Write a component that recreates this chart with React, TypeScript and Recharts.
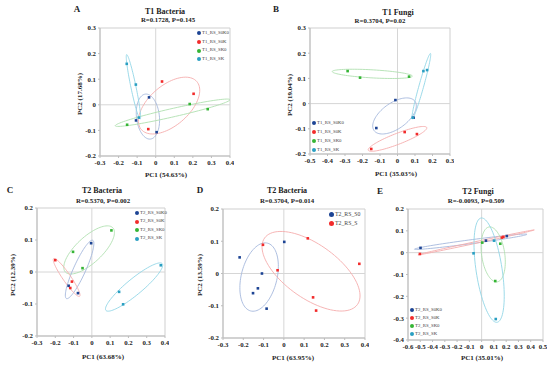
import { ReferenceArea, ReferenceLine, Scatter, ScatterChart, XAxis, YAxis } from "recharts";

const FONT = '"Liberation Serif", "Times New Roman", serif';

const COLORS = { s0k0: "#1d4494", s0k: "#f22b2b", sk0: "#35b535", sk: "#2a9fc2" };
const RING = { s0k0: "#a5b8dc", s0k: "#f5adad", sk0: "#b0e0b0", sk: "#92d6e6" };

// panel A — T1 bacteria
const aS0K0 = [{ x: -0.036, y: 0.029 }, { x: -0.106, y: -0.061 }, { x: 0.005, y: -0.107 }];
const aS0K = [{ x: 0.034, y: 0.091 }, { x: 0.204, y: 0.043 }, { x: -0.04, y: -0.095 }];
const aSK0 = [{ x: -0.154, y: -0.078 }, { x: 0.183, y: 0.003 }, { x: 0.28, y: -0.017 }];
const aSK = [{ x: -0.156, y: 0.16 }, { x: -0.107, y: 0.079 }, { x: -0.091, y: -0.05 }];
// ellipse: centre, vector to tip, conjugate vector
const aRings = [
  { k: "s0k0", c: [-0.042, -0.046], u: [-0.01, 0.088], v: [0.062, 0] },
  { k: "s0k", c: [0.072, -0.003], u: [0.149, 0.094], v: [0.071, -0.059] },
  { k: "sk0", c: [0.091, -0.031], u: [0.309, 0.051], v: [0.005, -0.016] },
  { k: "sk", c: [-0.12, 0.07], u: [-0.036, 0.126], v: [0.014, 0] },
];

// panel B — T1 fungi
const bS0K0 = [{ x: -0.012, y: 0.014 }, { x: -0.121, y: -0.097 }, { x: 0.092, y: -0.056 }];
const bS0K = [{ x: -0.15, y: -0.18 }, { x: 0.041, y: -0.113 }, { x: 0.111, y: -0.121 }];
const bSK0 = [{ x: -0.285, y: 0.129 }, { x: -0.214, y: 0.103 }, { x: 0.066, y: 0.107 }];
const bSK = [{ x: 0.148, y: 0.129 }, { x: 0.169, y: 0.133 }, { x: 0.087, y: -0.056 }];
const bRings = [
  { k: "sk0", c: [-0.144, 0.118], u: [0.229, -0.009], v: [0, 0.016] },
  { k: "sk", c: [0.136, 0.069], u: [0.052, 0.13], v: [0.014, 0] },
  { k: "s0k0", c: [-0.017, -0.049], u: [0.117, 0.058], v: [0.043, -0.042] },
  { k: "s0k", c: [0, -0.14], u: [0.167, 0.045], v: [0.012, -0.02] },
];

// panel C — T2 bacteria
const cS0K0 = [{ x: -0.004, y: 0.09 }, { x: -0.127, y: -0.043 }, { x: -0.076, y: -0.066 }];
const cS0K = [{ x: -0.2, y: 0.037 }, { x: -0.109, y: -0.03 }, { x: -0.118, y: -0.05 }];
const cSK0 = [{ x: -0.103, y: 0.063 }, { x: -0.051, y: 0.012 }, { x: 0.107, y: 0.13 }];
const cSK = [{ x: 0.149, y: -0.062 }, { x: 0.171, y: -0.101 }, { x: 0.377, y: 0.021 }];
const cRings = [
  { k: "sk0", c: [-0.015, 0.069], u: [0.13, 0.069], v: [0.048, -0.03] },
  { k: "s0k0", c: [-0.067, 0.008], u: [0.072, 0.091], v: [0.03, -0.008] },
  { k: "s0k", c: [-0.138, -0.017], u: [-0.071, 0.059], v: [0.018, 0.007] },
  { k: "sk", c: [0.231, -0.047], u: [0.154, 0.073], v: [0.028, -0.019] },
];

// panel D — T2 bacteria, S0 vs S
const dS0 = [
  { x: -0.218, y: 0.05 }, { x: -0.108, y: 0 }, { x: -0.128, y: -0.046 },
  { x: -0.152, y: -0.061 }, { x: -0.085, y: -0.109 }, { x: 0.002, y: 0.098 },
];
const dS = [
  { x: -0.103, y: 0.089 }, { x: -0.031, y: 0.01 }, { x: 0.118, y: 0.109 },
  { x: 0.372, y: 0.03 }, { x: 0.144, y: -0.074 }, { x: 0.159, y: -0.115 },
];
const dRings = [
  { k: "s0k0", c: [-0.122, -0.011], u: [0.03, 0.106], v: [0.09, 0] },
  { k: "s0k", c: [0.134, 0.007], u: [0.229, -0.103], v: [0.077, 0.068] },
];

// panel E — T2 fungi
const eS0K0 = [{ x: -0.498, y: 0.022 }, { x: 0.035, y: 0.055 }, { x: 0.205, y: 0.076 }];
const eS0K = [{ x: -0.503, y: -0.006 }, { x: 0.165, y: 0.069 }, { x: 0.177, y: 0.072 }];
const eSK0 = [{ x: 0.005, y: 0.046 }, { x: 0.152, y: 0.041 }, { x: 0.111, y: -0.13 }];
const eSK = [{ x: -0.066, y: -0.003 }, { x: 0.101, y: 0.055 }, { x: 0.115, y: -0.304 }];
const eRings = [
  { k: "s0k0", c: [-0.089, 0.05], u: [0.458, 0.034], v: [0, 0.009] },
  { k: "s0k", c: [-0.045, 0.047], u: [0.474, 0.057], v: [0, 0.004] },
  { k: "sk0", c: [0.094, -0.008], u: [-0.027, 0.126], v: [0.095, 0] },
  { k: "sk", c: [0.061, -0.08], u: [-0.061, 0.239], v: [0.107, 0] },
];

const ticksA = [-0.3, -0.2, -0.1, 0, 0.1, 0.2, 0.3, 0.4];
const ticksB = [-0.5, -0.4, -0.3, -0.2, -0.1, 0, 0.1, 0.2, 0.3];
const ticksE = [-0.6, -0.5, -0.4, -0.3, -0.2, -0.1, 0, 0.1, 0.2, 0.3, 0.4, 0.5];
const yTicks53 = [-0.2, -0.1, 0, 0.1, 0.2, 0.3];
const yTicks22 = [-0.2, -0.1, 0, 0.1, 0.2];
const yTicksE = [-0.4, -0.3, -0.2, -0.1, 0, 0.1, 0.2];

function ringPoints(r: any) {
  const pts = [];
  for (let i = 0; i <= 90; i++) {
    const t = (i / 90) * Math.PI * 2;
    pts.push({
      x: r.c[0] + r.u[0] * Math.cos(t) + r.v[0] * Math.sin(t),
      y: r.c[1] + r.u[1] * Math.cos(t) + r.v[1] * Math.sin(t),
    });
  }
  return pts;
}

const dot = (color: string) => (p: any) => (
  <rect x={p.cx - 1.3} y={p.cy - 1.3} width={2.6} height={2.6} fill={color} />
);

const tickStyle = { fontFamily: FONT, fontSize: 6.8, fontWeight: 700, fill: "#222" };

function Panel({ box, xDomain, yDomain, xTicks, yTicks, groups, rings }: any) {
  const [left, top, w, h] = box;
  return (
    <div style={{ position: "absolute", left: left - 30, top: top - 4 }}>
      <ScatterChart width={w + 34} height={h + 20} margin={{ top: 4, right: 4, bottom: 0, left: 0 }}>
        <XAxis
          type="number" dataKey="x" domain={xDomain} ticks={xTicks} interval={0} allowDataOverflow
          height={16} tick={tickStyle} tickSize={2} tickMargin={2} stroke="#bdbdbd"
        />
        <YAxis
          type="number" dataKey="y" domain={yDomain} ticks={yTicks} interval={0} allowDataOverflow
          width={30} tick={tickStyle} tickSize={2} tickMargin={2} stroke="#bdbdbd"
        />
        <ReferenceArea x1={xDomain[0]} x2={xDomain[1]} y1={yDomain[0]} y2={yDomain[1]} fill="none" stroke="#cfcfcf" />
        <ReferenceLine x={0} stroke="#d6d6d6" />
        <ReferenceLine y={0} stroke="#d6d6d6" />
        {rings.map((r: any, i: number) => {
          const col = RING[r.k as keyof typeof RING];
          return (
            <Scatter
              key={"r" + i} data={ringPoints(r)} fill={col} stroke={col}
              line={{ stroke: col, strokeWidth: 0.9 }}
              shape={() => <g />} isAnimationActive={false}
            />
          );
        })}
        {groups.map((g: any) => (
          <Scatter key={g.name} data={g.data} shape={dot(g.color)} isAnimationActive={false} />
        ))}
      </ScatterChart>
    </div>
  );
}

function Legend({ x, y, items, step, size }: any) {
  return (
    <div style={{ position: "absolute", left: x, top: y }}>
      {items.map((g: any, i: number) => (
        <div key={g.name} style={{ position: "absolute", top: i * step, left: 0, display: "flex", alignItems: "center", whiteSpace: "nowrap" }}>
          <span style={{ width: size, height: size, borderRadius: "50%", background: g.color, display: "inline-block", marginRight: 1 }} />
          <span style={{ fontSize: size + 0.8, color: "#444", lineHeight: 1 }}>{g.name}</span>
        </div>
      ))}
    </div>
  );
}

const txt = (s: string, x: number, y: number, size: number, bold = true, rotate = false) => (
  <div
    style={{
      position: "absolute", left: x, top: y, fontSize: size, fontWeight: bold ? 700 : 400,
      whiteSpace: "nowrap", lineHeight: 1, transform: `translate(-50%, -50%)${rotate ? " rotate(-90deg)" : ""}`,
    }}
  >
    {s}
  </div>
);

const groups4 = (p: string, a: any[], b: any[], c: any[], d: any[]) => [
  { name: `${p}_RS_S0K0`, color: COLORS.s0k0, data: a },
  { name: `${p}_RS_S0K`, color: COLORS.s0k, data: b },
  { name: `${p}_RS_SK0`, color: COLORS.sk0, data: c },
  { name: `${p}_RS_SK`, color: COLORS.sk, data: d },
];

export default function App() {
  const gA = groups4("T1", aS0K0, aS0K, aSK0, aSK);
  const gB = groups4("T1", bS0K0, bS0K, bSK0, bSK);
  const gC = groups4("T2", cS0K0, cS0K, cSK0, cSK);
  const gD = [
    { name: "T2_RS_S0", color: COLORS.s0k0, data: dS0 },
    { name: "T2_RS_S", color: COLORS.s0k, data: dS },
  ];
  const gE = groups4("T2", eS0K0, eS0K, eSK0, eSK);
  return (
    <div style={{ position: "absolute", left: 0, top: 0, width: 550, height: 367, background: "#fff", fontFamily: FONT, color: "#222", overflow: "hidden" }}>
      <Panel box={[100, 28, 130, 128]} xDomain={[-0.3, 0.4]} yDomain={[-0.2, 0.3]} xTicks={ticksA} yTicks={yTicks53} groups={gA} rings={aRings} />
      <Panel box={[310, 28, 140, 126]} xDomain={[-0.5, 0.3]} yDomain={[-0.2, 0.3]} xTicks={ticksB} yTicks={yTicks53} groups={gB} rings={bRings} />
      <Panel box={[37, 208, 128, 128]} xDomain={[-0.3, 0.4]} yDomain={[-0.2, 0.2]} xTicks={ticksA} yTicks={yTicks22} groups={gC} rings={cRings} />
      <Panel box={[223, 209, 142, 129]} xDomain={[-0.3, 0.4]} yDomain={[-0.2, 0.2]} xTicks={ticksA} yTicks={yTicks22} groups={gD} rings={dRings} />
      <Panel box={[408, 209, 135, 131]} xDomain={[-0.6, 0.5]} yDomain={[-0.4, 0.2]} xTicks={ticksE} yTicks={yTicksE} groups={gE} rings={eRings} />

      <Legend x={197} y={31} items={gA} step={8.7} size={4} />
      <Legend x={312} y={121} items={gB} step={8.9} size={4} />
      <Legend x={135} y={211} items={gC} step={8.4} size={4} />
      <Legend x={329} y={211.5} items={gD} step={9.3} size={5} />
      <Legend x={410} y={308} items={gE} step={8} size={4} />

      {txt("A", 77, 9, 9)}
      {txt("B", 276, 9, 9)}
      {txt("C", 10, 190, 9)}
      {txt("D", 200, 190, 9)}
      {txt("E", 380, 191, 9)}

      {txt("T1 Bacteria", 165, 12, 8)}
      {txt("R=0.1728, P=0.145", 168, 19.5, 6.8)}
      {txt("T1 Fungi", 398, 13, 8)}
      {txt("R=0.3704, P=0.02", 380, 20.5, 6.8)}
      {txt("T2 Bacteria", 102, 191, 8)}
      {txt("R=0.5370, P=0.002", 103, 200.5, 6.8)}
      {txt("T2 Bacteria", 287, 191, 8)}
      {txt("R=0.3704, P=0.014", 287, 200.5, 6.8)}
      {txt("T2 Fungi", 478, 192, 8)}
      {txt("R=-0.0093, P=0.509", 476, 201, 6.8)}

      {txt("PC1 (54.63%)", 166, 175, 7)}
      {txt("PC2 (17.68%)", 80, 94, 7, true, true)}
      {txt("PC1 (35.03%)", 396, 174, 7)}
      {txt("PC2 (19.04%)", 290, 95, 7, true, true)}
      {txt("PC1 (63.68%)", 103, 357, 7)}
      {txt("PC2 (12.39%)", 13, 275, 7, true, true)}
      {txt("PC1 (63.95%)", 293, 358, 7)}
      {txt("PC2 (13.59%)", 200, 275, 7, true, true)}
      {txt("PC1 (35.01%)", 482, 358, 7)}
    </div>
  );
}
